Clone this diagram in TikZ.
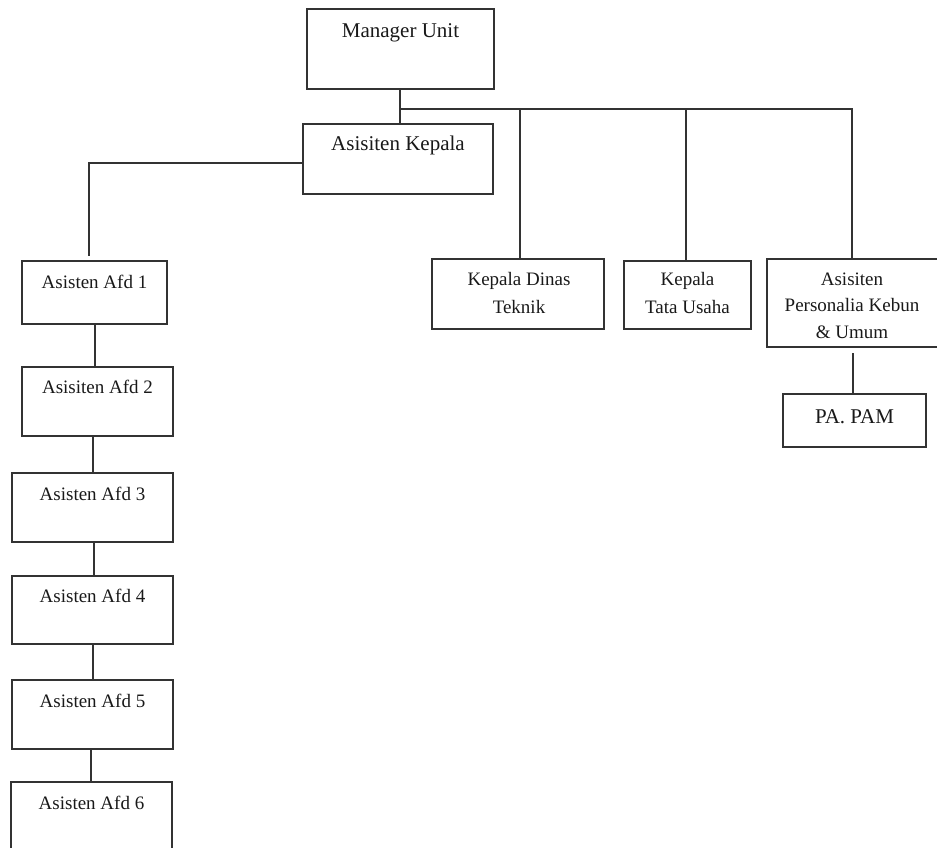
\documentclass[tikz,border=0pt]{standalone}
\usepackage{fontspec}
\setmainfont{Liberation Serif}
\begin{document}
\begin{tikzpicture}[x=1pt,y=-1pt,
  box/.style={draw=black!80,line width=1.3pt,minimum width=#1,inner sep=0pt},
  lbl/.style={anchor=base,inner sep=0pt,font=\fontsize{19}{27}\selectfont,align=center,text=black!90},
  lblb/.style={anchor=base,inner sep=0pt,font=\fontsize{21}{27}\selectfont,align=center,text=black!90},
  conn/.style={draw=black!80,line width=1.3pt}]
\useasboundingbox (0,0) rectangle (937,848);
\begin{scope}
\clip (0,0) rectangle (937,848);
% boxes
\node[box=187pt,minimum height=80pt] (mu) at (400.5,49) {};
\node[box=190pt,minimum height=70pt] (ak) at (398,159) {};
\node[box=145pt,minimum height=63pt] (a1) at (94.5,292.5) {};
\node[box=151pt,minimum height=69pt] (a2) at (97.5,401.5) {};
\node[box=161pt,minimum height=69pt] (a3) at (92.5,507.5) {};
\node[box=161pt,minimum height=68pt] (a4) at (92.5,610) {};
\node[box=161pt,minimum height=69pt] (a5) at (92.5,714.5) {};
\node[box=161pt,minimum height=88pt] (a6) at (91.5,826) {};
\node[box=172pt,minimum height=70pt] (kd) at (518,294) {};
\node[box=127pt,minimum height=68pt] (kt) at (687.5,295) {};
\node[box=183pt,minimum height=88pt] (kp) at (858.5,303) {};
\node[box=143pt,minimum height=53pt] (pa) at (854.5,420.5) {};
% labels
\node[lblb] (tmu) at (400.5,38) {Manager Unit};
\node[lblb] (tak) at (398,150) {Asisiten Kepala};
\node[lbl] (ta1) at (94.5,288) {Asisten Afd 1};
\node[lbl] (ta2) at (97.5,393) {Asisiten Afd 2};
\node[lbl] (ta3) at (92.5,500) {Asisten Afd 3};
\node[lbl] (ta4) at (92.5,602) {Asisten Afd 4};
\node[lbl] (ta5) at (92.5,707) {Asisten Afd 5};
\node[lbl] (ta6) at (91.5,809) {Asisten Afd 6};
\node[lbl,font=\fontsize{19}{28}\selectfont] (tkd) at (519,313) {Kepala Dinas\\Teknik};
\node[lbl,font=\fontsize{19}{28}\selectfont] (tkt) at (687.5,313) {Kepala\\Tata Usaha};
\node[lbl,font=\fontsize{19}{26.5}\selectfont] (tkp) at (852,338) {Asisiten\\Personalia Kebun\\\&{} Umum};
\node[lblb] (tpa) at (854.5,423) {PA. PAM};
% connectors
\coordinate (j) at (400,109);
\draw[conn] (mu.south -| j) -- (ak.north -| j);
\draw[conn] (j) -| (852,259);
\draw[conn] (j -| 520,0) -- (kd.north -| 520,0);
\draw[conn] (j -| 686,0) -- (kt.north -| 686,0);
\draw[conn] (ak.west |- 0,163) -| (89,256);
\draw[conn] (a1.south -| 95,0) -- (a2.north -| 95,0);
\draw[conn] (a2.south -| 93,0) -- (a3.north -| 93,0);
\draw[conn] (a3.south -| 94,0) -- (a4.north -| 94,0);
\draw[conn] (a4.south -| 93,0) -- (a5.north -| 93,0);
\draw[conn] (a5.south -| 91,0) -- (a6.north -| 91,0);
\draw[conn] (853,353) -- (pa.north -| 853,0);
\end{scope}
\end{tikzpicture}
\end{document}
